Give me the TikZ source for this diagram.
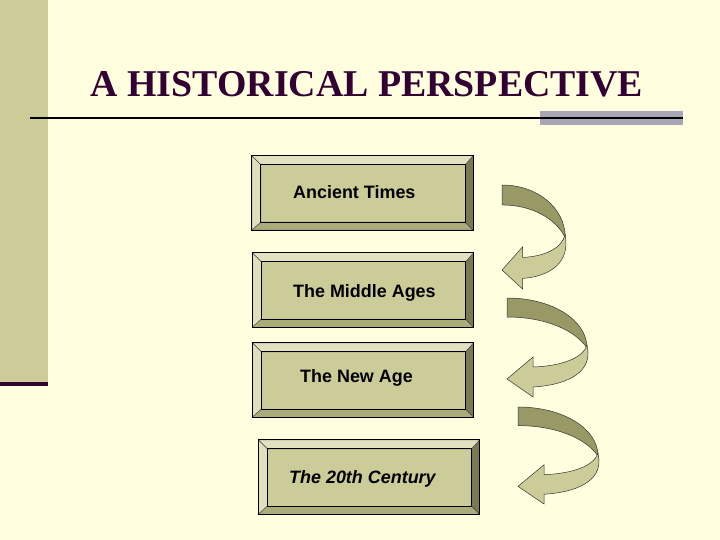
\documentclass[tikz,border=0pt]{standalone}
\usepackage{fontspec}
\setmainfont{Liberation Serif}
\newfontfamily\arialfont{Liberation Sans}
\usetikzlibrary{calc}
\definecolor{slidebg}{RGB}{255,255,224}
\definecolor{khaki}{RGB}{204,204,153}
\definecolor{khakidark}{RGB}{153,153,102}
\definecolor{khakilight}{RGB}{226,226,192}
\definecolor{khakimid}{RGB}{172,172,122}
\definecolor{khakishade}{RGB}{122,122,82}
\definecolor{plum}{RGB}{51,0,51}
\definecolor{rulegray}{RGB}{168,166,180}

% bevelled frame round a box node
\newcommand{\bevel}[1]{%
  \filldraw[fill=khakilight, draw=black!70, line width=0.4pt] (#1.north west) -- (#1.north east) -- ($(#1.north east)+(-8,9)$) -- ($(#1.north west)+(9,9)$) -- cycle;
  \filldraw[fill=khakilight!90!khaki, draw=black!70, line width=0.4pt] (#1.north west) -- ($(#1.north west)+(9,9)$) -- ($(#1.south west)+(9,-8)$) -- (#1.south west) -- cycle;
  \filldraw[fill=khakimid, draw=black!70, line width=0.4pt] (#1.south west) -- ($(#1.south west)+(9,-8)$) -- ($(#1.south east)+(-8,-8)$) -- (#1.south east) -- cycle;
  \filldraw[fill=khakishade, draw=black!70, line width=0.4pt] (#1.north east) -- (#1.south east) -- ($(#1.south east)+(-8,-8)$) -- ($(#1.north east)+(-8,9)$) -- cycle;
  \draw[line width=0.8pt] (#1.north west) rectangle (#1.south east);
  \draw[line width=0.8pt] ($(#1.north west)+(9,9)$) rectangle ($(#1.south east)+(-8,-8)$);
}

\tikzset{
  era/.style={draw, fill=khaki, minimum width=221bp, minimum height=74bp, inner sep=0pt},
  eratext/.style={anchor=base west, inner sep=0pt, font=\arialfont\bfseries\fontsize{18}{20}\selectfont},
  turnarrow/.pic={
    \filldraw[fill=khakidark, draw=black!80, line width=0.5pt]
      (0,0) .. controls (45,0) and (80,22) .. (80,50)
      .. controls (68,32) and (38,19) .. (0,19) -- cycle;
    \filldraw[fill=khaki, draw=black!80, line width=0.5pt]
      (80,47) .. controls (76,60) and (55,68) .. (26,69) -- (26,59) -- (0,81)
      -- (26,99) -- (26,89) .. controls (60,87) and (82,75) .. (81,54) -- cycle;
  }
}

\begin{document}
\begin{tikzpicture}[x=1bp, y=-1bp]
    \useasboundingbox (0,0) rectangle (720,540);
    \fill[slidebg] (0,0) rectangle (720,540);

    % Side bar
    \fill[khaki] (0,0) rectangle (48,382);
    \fill[plum] (0,382) rectangle (48,386);

    % Title
    \node[anchor=base, inner sep=0pt, text=plum, font=\bfseries\fontsize{38}{40}\selectfont] (title) at (367,97) {A HISTORICAL PERSPECTIVE};
    \fill[rulegray] (540,111) rectangle (683,125);
    \draw[black, line width=2.2bp] (30,118) -- (683,118);

    % Eras
    \node[era] (ancient) at (362.5,193) {};
    \bevel{ancient}
    \node[eratext] (ancienttxt) at (293,199) {Ancient Times};

    \node[era] (middle) at (363,290) {};
    \bevel{middle}
    \node[eratext] (middletxt) at (293,297) {The Middle Ages};

    \node[era] (newage) at (363,380) {};
    \bevel{newage}
    \node[eratext] (newagetxt) at (300,382) {The New Age};

    \node[era] (century) at (369,477) {};
    \bevel{century}
    \node[eratext, font=\arialfont\bfseries\itshape\fontsize{18}{20}\selectfont] (centurytxt) at (289,483) {The 20th Century};

    % Turn arrows
    \pic[xscale=0.79, yscale=1.05] at (502,185) {turnarrow};
    \pic at (507,298) {turnarrow};
    \pic[yscale=0.98] at (518,407) {turnarrow};
\end{tikzpicture}
\end{document}
